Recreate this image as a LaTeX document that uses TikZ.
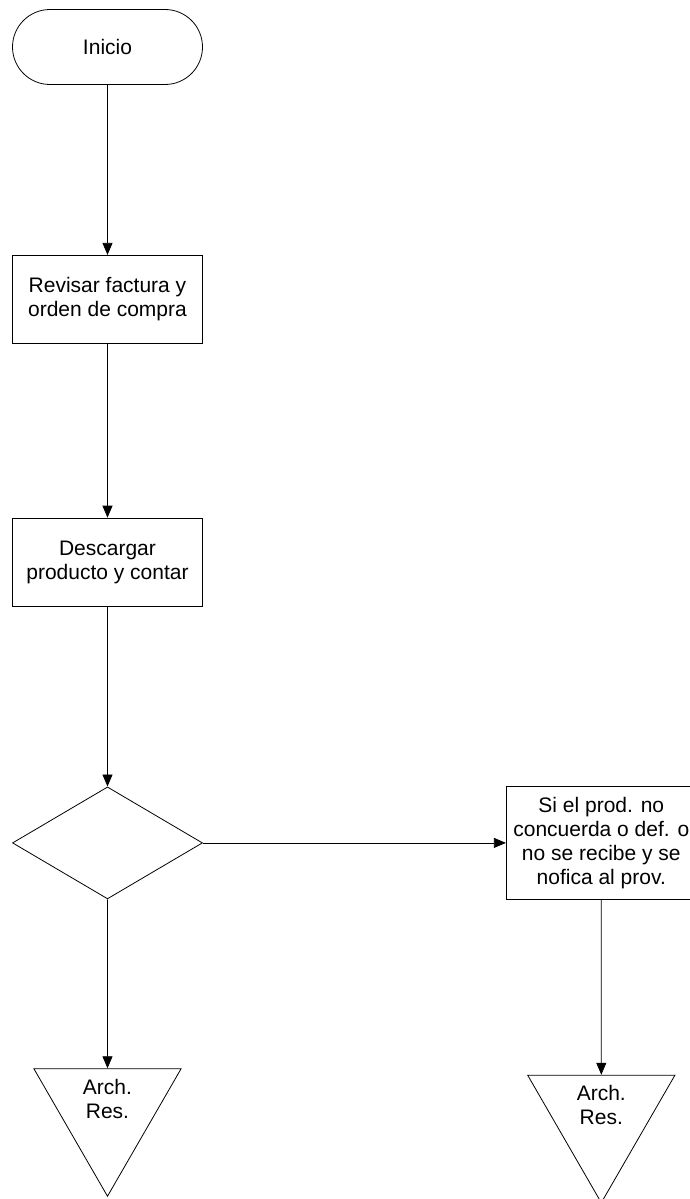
\documentclass[tikz,border=0pt]{standalone}
\usepackage{fontspec}
\setmainfont{Liberation Sans}
\usetikzlibrary{positioning,shapes.geometric,arrows.meta}

\tikzset{
  terminal/.style={rectangle,draw,rounded corners=37.5pt,minimum width=190pt,minimum height=75pt},
  paso/.style={rectangle,draw,minimum width=190pt,minimum height=88pt,align=center,inner sep=2pt},
  decision/.style={diamond,draw,minimum width=190pt,minimum height=112pt,inner sep=0pt},
  archivo/.style={regular polygon,regular polygon sides=3,shape border rotate=180,draw,
    minimum size=170pt,inner sep=0pt,align=center,text height=14pt}
}

\begin{document}
\begin{tikzpicture}[font=\fontsize{21pt}{24pt}\selectfont,line width=0.8pt,
    >={Triangle[length=12pt,width=10pt]}]
    \useasboundingbox (0,0) rectangle (690pt,-1199pt);
      \node[terminal](inicio) at (107.5pt,-47pt){Inicio};
      \node[paso,below=170pt of inicio](revisar){Revisar factura y\\orden de compra};
      \node[paso,below=174pt of revisar](descargar){Descargar\\producto y contar};
      \node[decision,below=180pt of descargar](decide){};
      \node[paso,minimum height=113pt,right=303pt of decide](aviso){Si el prod. no\\concuerda o def. o\\no se recibe y se\\nofica al prov.};
      \node[archivo,below=169pt of decide](archizq){Arch.\\Res.};
      \node[archivo,below=175pt of aviso](archder){Arch.\\Res.};

      \draw[->] (inicio) -- (revisar);
      \draw[->] (revisar) -- (descargar);
      \draw[->] (descargar) -- (decide);
      \draw[->] (decide) -- (aviso);
      \draw[->] (decide) -- (archizq);
      \draw[->] (aviso) -- (archder);
    \end{tikzpicture}
\end{document}
